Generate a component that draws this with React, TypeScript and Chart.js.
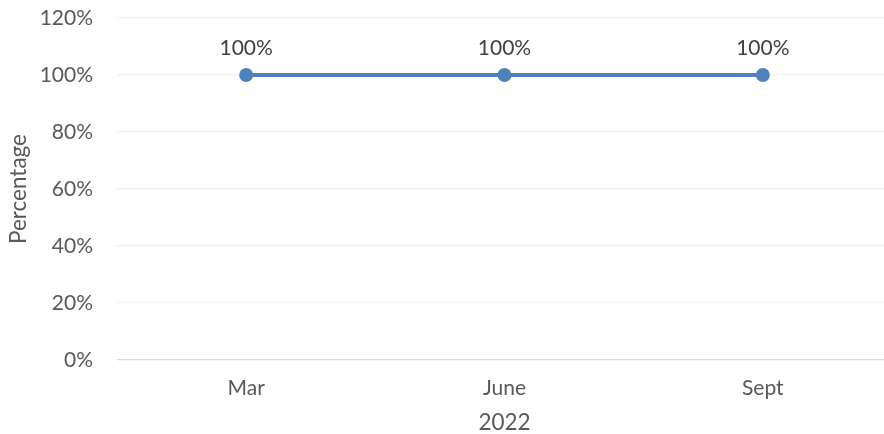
import React, { useEffect, useRef } from "react";
import { Chart, registerables } from "chart.js";

Chart.register(...registerables);

const categories = ["Mar", "June", "Sept"];
const seriesValues = [100, 100, 100];
const yTicks = [0, 20, 40, 60, 80, 100, 120];
const yTitle = "Percentage";
const xTitle = "2022";

const FONT = "Lato, 'Open Sans', sans-serif";

const dataLabelPlugin = {
  id: "dataLabels",
  afterDatasetsDraw(chart: any) {
    const ctx = chart.ctx;
    const meta = chart.getDatasetMeta(0);
    ctx.save();
    ctx.font = `21px ${FONT}`;
    ctx.fillStyle = "#404040";
    ctx.textAlign = "center";
    ctx.textBaseline = "middle";
    meta.data.forEach((pt: any, i: number) => {
      ctx.fillText(`${seriesValues[i]}%`, pt.x, pt.y - 27);
    });
    ctx.restore();
  },
};

export default function App() {
  const ref = useRef<HTMLCanvasElement>(null);
  useEffect(() => {
    const chart = new Chart(ref.current!, {
      type: "line",
      data: {
        labels: categories,
        datasets: [
          {
            data: seriesValues,
            borderColor: "#4F81BD",
            backgroundColor: "#4F81BD",
            borderWidth: 4,
            pointRadius: 7,
            pointHoverRadius: 7,
            pointBackgroundColor: "#4F81BD",
            pointBorderWidth: 0,
          },
        ],
      },
      options: {
        animation: false,
        responsive: false,
        maintainAspectRatio: false,
        layout: { padding: { top: 18, right: 0, bottom: 0, left: 0 } },
        plugins: { legend: { display: false }, tooltip: { enabled: false } },
        scales: {
          x: {
            offset: true,
            grid: { display: false, drawTicks: false },
            border: { display: false },
            ticks: { color: "#595959", font: { family: FONT, size: 21 }, padding: 16 },
            title: {
              display: true,
              text: xTitle,
              color: "#595959",
              font: { family: FONT, size: 22.5, lineHeight: 1 },
              padding: { top: 0, bottom: 0 },
            },
            afterFit(scale: any) {
              scale.height = 74;
              scale.paddingLeft = 0;
              scale.paddingRight = 0;
            },
          },
          y: {
            min: 0,
            max: 120,
            afterBuildTicks(scale: any) {
              scale.ticks = yTicks.map((v) => ({ value: v }));
            },
            grid: {
              drawTicks: false,
              color: (c: any) => (c.tick && c.tick.value === 0 ? "#d9d9d9" : "#efefef"),
              lineWidth: 1.3,
            },
            border: { display: false },
            ticks: {
              color: "#595959",
              font: { family: FONT, size: 21 },
              padding: 24,
              callback: (v: any) => `${v}%`,
            },
            title: {
              display: true,
              text: yTitle,
              color: "#595959",
              font: { family: FONT, size: 22.5, lineHeight: 1 },
              padding: { top: 7, bottom: 0 },
            },
            afterFit(scale: any) {
              scale.width = 117;
              scale.paddingTop = 0;
              scale.paddingBottom = 0;
            },
          },
        },
      },
      plugins: [dataLabelPlugin],
    });
    return () => chart.destroy();
  }, []);
  return (
    <div
      style={{
        position: "fixed",
        left: 0,
        top: 0,
        width: 884,
        height: 434,
        overflow: "hidden",
        background: "#fff",
      }}
    >
      <canvas
        ref={ref}
        width={899}
        height={434}
        style={{ display: "block", width: 899, height: 434 }}
      />
    </div>
  );
}
